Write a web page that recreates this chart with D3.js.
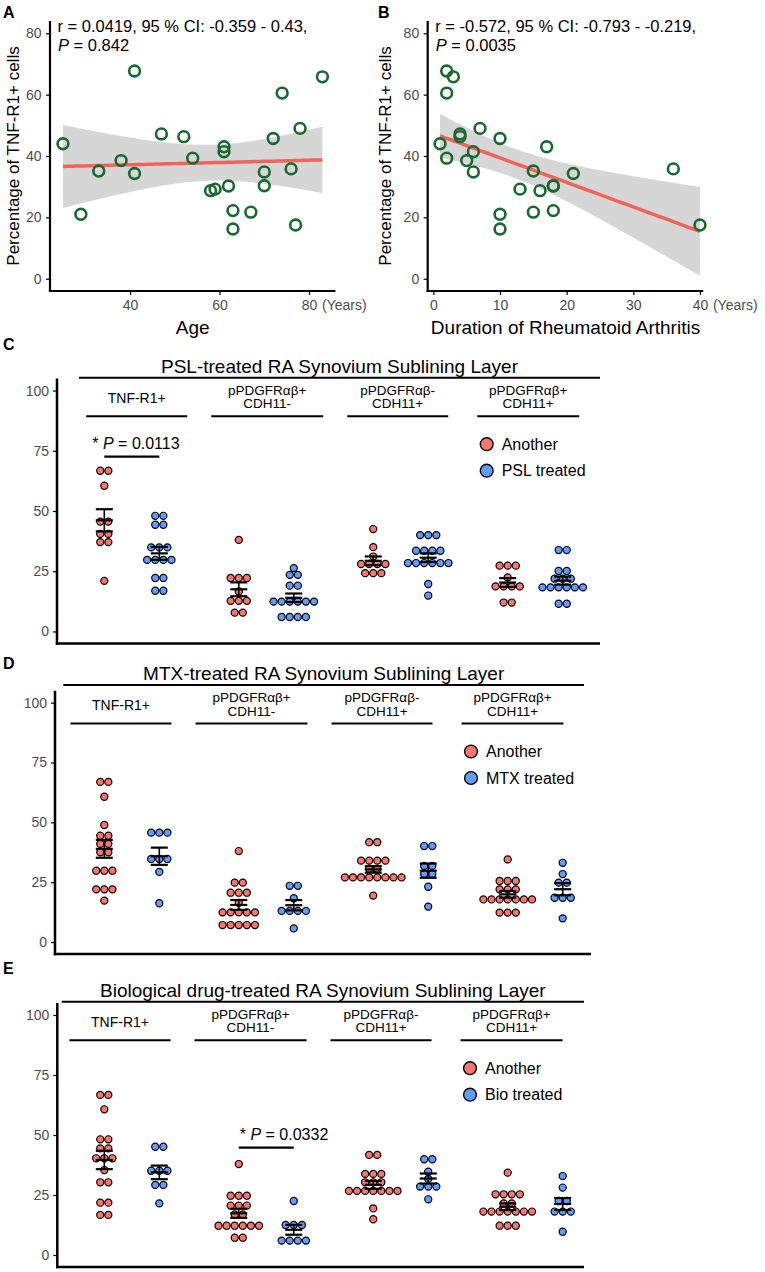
<!DOCTYPE html>
<html>
<head>
<meta charset="utf-8">
<script src="https://cdn.jsdelivr.net/npm/d3@7"></script>
<style>
  body { margin: 0; background: #fff; }
  svg { display: block; font-family: "Liberation Sans", Arial, Helvetica, sans-serif; }
</style>
</head>
<body>
<script>
// ---- A / B : scatter data (percentage of TNF-R1+ cells) ----
const ageYears = [25, 29, 33, 38, 41, 41, 47, 52, 54, 58, 59, 61, 61, 62, 63, 63, 67, 70, 70, 72, 74, 76, 77, 78, 83];
const ageTnf = [44, 21, 35.1, 38.5, 67.7, 34.3, 47.2, 46.3, 39.3, 28.7, 29.2, 43, 41.4, 30.2, 22.2, 16.2, 21.7, 34.8, 30.3, 45.7, 60.5, 35.8, 17.5, 49, 65.8];
const durationYears = [1, 2, 3, 2, 2, 4, 4, 5, 6, 6, 7, 10, 10, 10, 13, 15, 15, 16, 17, 18, 18, 18, 21, 36, 40];
const durationTnf = [44, 67.7, 65.8, 60.5, 39.3, 47.2, 46.3, 38.5, 41.4, 34.8, 49, 45.7, 21, 16.2, 29.2, 35.1, 21.7, 28.7, 43, 30.2, 30.3, 22.2, 34.3, 35.8, 17.5];
const ageStat = ["r = 0.0419, 95 % CI: -0.359 - 0.43,", "0.842"];
const durationStat = ["r = -0.572, 95 % CI: -0.793 - -0.219,", "0.0035"];
const scatterYTicks = [0, 20, 40, 60, 80];
const ageTicks = [40, 60, 80];
const durationTicks = [0, 10, 20, 30, 40];

// ---- C / D / E : dot plots ----
const markers = ["TNF-R1+", "pPDGFRαβ+ CDH11-", "pPDGFRαβ- CDH11+", "pPDGFRαβ+ CDH11+"];
const markerLabels = [["TNF-R1+"], ["pPDGFRαβ+", "CDH11-"], ["pPDGFRαβ-", "CDH11+"], ["pPDGFRαβ+", "CDH11+"]];
const dotYTicks = [0, 25, 50, 75, 100];

const pslAnother = [
  [66.7, 66.7, 60.5, 45.6, 45.6, 40.5, 40.5, 37.1, 37.1, 21.0],
  [38.0, 22.2, 22.2, 22.2, 16.6, 12.7, 12.7, 12.7, 7.8, 7.8],
  [42.5, 35.0, 31.1, 28.0, 28.0, 28.0, 28.0, 24.2, 24.2, 24.2],
  [27.3, 27.3, 27.3, 22.4, 18.7, 18.7, 18.7, 18.7, 12.0, 12.0],
];
const pslTreated = [
  [48.0, 48.0, 44.3, 44.3, 34.9, 34.9, 34.9, 29.7, 29.7, 29.7, 29.7, 22.2, 22.2, 16.9, 16.9],
  [26.3, 23.5, 23.5, 19.0, 19.0, 12.4, 12.4, 12.4, 12.4, 12.4, 12.4, 6.0, 6.0, 6.0, 6.0],
  [40.0, 40.0, 40.0, 33.5, 33.5, 33.5, 33.5, 28.4, 28.4, 28.4, 28.4, 28.4, 28.4, 19.7, 14.9],
  [33.8, 33.8, 25.1, 25.1, 21.9, 21.9, 21.9, 18.3, 18.3, 18.3, 18.3, 18.3, 18.3, 11.5, 11.5],
];
const mtxAnother = [
  [66.9, 66.9, 60.7, 48.9, 44.4, 44.4, 41.0, 41.0, 37.5, 37.5, 29.8, 29.8, 29.8, 22.0, 22.0, 22.0, 17.3],
  [38.0, 24.8, 24.8, 20.6, 20.6, 20.6, 16.4, 12.4, 12.4, 12.4, 12.4, 12.4, 7.1, 7.1, 7.1, 7.1, 7.1],
  [41.7, 41.7, 34.0, 34.0, 34.0, 34.0, 30.6, 30.6, 27.0, 27.0, 27.0, 27.0, 27.0, 27.0, 27.0, 27.0, 19.4],
  [34.5, 25.5, 25.5, 25.5, 22.0, 22.0, 22.0, 17.8, 17.8, 17.8, 17.8, 17.8, 17.8, 17.8, 12.3, 12.3, 12.3],
];
const mtxTreated = [
  [45.7, 45.7, 45.7, 34.7, 34.7, 34.7, 29.3, 16.2],
  [23.5, 23.5, 18.3, 13.0, 13.0, 13.0, 13.0, 5.7],
  [40.1, 40.1, 31.8, 31.8, 28.4, 28.4, 23.1, 14.8],
  [33.1, 28.4, 24.8, 24.8, 18.5, 18.5, 18.5, 9.9],
];
const bioAnother = [
  [66.7, 66.7, 60.7, 48.2, 48.2, 44.4, 44.4, 40.3, 40.3, 40.3, 35.4, 30.3, 30.3, 21.8, 21.8, 16.7, 16.7],
  [37.9, 24.7, 24.7, 24.7, 20.6, 20.6, 20.6, 16.9, 16.9, 12.2, 12.2, 12.2, 12.2, 12.2, 12.2, 7.2, 7.2],
  [41.7, 41.7, 33.8, 33.8, 33.8, 30.3, 30.3, 30.3, 26.7, 26.7, 26.7, 26.7, 26.7, 26.7, 26.7, 19.4, 14.9],
  [34.3, 25.3, 25.3, 25.3, 25.3, 21.5, 21.5, 18.1, 18.1, 18.1, 18.1, 18.1, 18.1, 18.1, 12.2, 12.2, 12.2],
];
const bioTreated = [
  [45.1, 45.1, 35.1, 35.1, 35.1, 29.2, 29.2, 21.5],
  [22.5, 12.5, 12.5, 12.5, 6.0, 6.0, 6.0, 6.0],
  [39.9, 39.9, 34.7, 31.7, 28.5, 28.5, 28.5, 23.2],
  [32.9, 28.1, 22.5, 22.5, 18.1, 18.1, 18.1, 9.7],
];

const red = "#F8766D";
const blue = "#619CFF";
const green = "#17692f";
const tickGrey = "#4d4d4d";

const svg = d3.select("body").append("svg").attr("width", 765).attr("height", 1272);

const letter = (txt, x, y) =>
  svg.append("text").text(txt).attr("x", x).attr("y", y)
    .style("font-size", "16px").style("font-weight", "bold");

// ---------- scatter panels ----------
const drawScatter = (cfg) => {
  const g = svg.append("g");
  const x = d3.scaleLinear().domain(cfg.xDomain).range(cfg.xRange);
  const y = d3.scaleLinear().domain([-4, 84]).range([291, 21]);

  // linear fit + 95% confidence band (as geom_smooth(method = "lm"))
  const xs = cfg.xs, ys = cfg.ys, n = xs.length;
  const mx = d3.mean(xs), my = d3.mean(ys);
  const sxx = d3.sum(xs, (v) => (v - mx) ** 2);
  const sxy = d3.sum(xs, (v, i) => (v - mx) * (ys[i] - my));
  const b = sxy / sxx, a = my - b * mx;
  const s = Math.sqrt(d3.sum(xs, (v, i) => (ys[i] - a - b * v) ** 2) / (n - 2));
  const tq = 2.0687; // t(0.975, df = 23)
  const [x0, x1] = d3.extent(xs);
  const fit = d3.ticks(x0, x1, 60).concat([x0, x1]).sort((p, q) => p - q).map((v) => {
    const se = s * Math.sqrt(1 / n + (v - mx) ** 2 / sxx);
    return { x: v, y: a + b * v, lo: a + b * v - tq * se, hi: a + b * v + tq * se };
  });

  g.append("path").datum(fit)
    .attr("d", d3.area().x((d) => x(d.x)).y0((d) => y(d.lo)).y1((d) => y(d.hi)))
    .attr("fill", "#999").attr("fill-opacity", 0.4);
  g.append("path").datum(fit)
    .attr("d", d3.line().x((d) => x(d.x)).y((d) => y(d.y)))
    .attr("fill", "none").attr("stroke", "#f2645a").attr("stroke-width", 3.5);

  g.selectAll("circle.pt").data(xs).enter().append("circle")
    .attr("class", "pt")
    .attr("cx", (d) => x(d))
    .attr("cy", (d, i) => y(ys[i]))
    .attr("r", 5.4)
    .attr("fill", "none").attr("stroke", green).attr("stroke-width", 2.6);

  // axes
  const yAxis = g.append("g").attr("transform", `translate(${cfg.xRange[0]},0)`)
    .call(d3.axisLeft(y).tickValues(scatterYTicks).tickSize(4).tickPadding(4.5));
  const xAxis = g.append("g").attr("transform", "translate(0,291)")
    .call(d3.axisBottom(x).tickValues(cfg.xTicks).tickSize(4).tickPadding(5));
  [yAxis, xAxis].forEach((ax) => {
    ax.select(".domain").remove();
    ax.selectAll(".tick line").attr("stroke", "#000").attr("stroke-width", 1.2);
    ax.selectAll(".tick text").attr("fill", tickGrey).style("font-size", "14px").style("font-family", null);
  });
  g.append("line").attr("x1", cfg.xRange[0]).attr("x2", cfg.xRange[0]).attr("y1", 21).attr("y2", 292)
    .attr("stroke", "#000").attr("stroke-width", 2.2);
  g.append("line").attr("x1", cfg.xRange[0] - 1.1).attr("x2", cfg.xRange[1]).attr("y1", 291).attr("y2", 291)
    .attr("stroke", "#000").attr("stroke-width", 2.2);

  const lastTick = cfg.xTicks[cfg.xTicks.length - 1];
  g.append("text").text("(Years)").attr("x", x(lastTick) + 13).attr("y", 310)
    .attr("fill", tickGrey).style("font-size", "14px");

  // titles
  g.append("text").text(cfg.xTitle)
    .attr("x", (cfg.xRange[0] + cfg.xRange[1]) / 2).attr("y", 334)
    .attr("text-anchor", "middle").style("font-size", "19px");
  g.append("text").text("Percentage of TNF-R1+ cells")
    .attr("transform", `translate(${cfg.yTitleX},156) rotate(-90)`)
    .attr("text-anchor", "middle").style("font-size", "17px");

  // statistics
  g.append("text").text(cfg.stat[0]).attr("x", cfg.xRange[0] + 7.5).attr("y", 31.5).style("font-size", "16.5px");
  const p = g.append("text").attr("x", cfg.xRange[0] + 8).attr("y", 51).style("font-size", "16.5px");
  p.append("tspan").text("P").style("font-style", "italic");
  p.append("tspan").text(" = " + cfg.stat[1]);

  letter(cfg.letter, cfg.letterX, 18);
};

drawScatter({ letter: "A", letterX: 3, xs: ageYears, ys: ageTnf, xDomain: [22.1, 85.9], xRange: [50, 335.4],
  xTicks: ageTicks, stat: ageStat, xTitle: "Age", yTitleX: 19 });
drawScatter({ letter: "B", letterX: 378, xs: durationYears, ys: durationTnf, xDomain: [-0.85, 40.5], xRange: [427.7, 703.3],
  xTicks: durationTicks, stat: durationStat, xTitle: "Duration of Rheumatoid Arthritis", yTitleX: 391 });

// ---------- dot plot panels ----------
const dotStep = 8.1;
const stackRows = (values) =>
  d3.groups(values, (v) => v).flatMap(([v, vs]) => vs.map((_, k) => ({ value: v, k, n: vs.length })));

const pairX = d3.scalePoint().domain(markers).range([131.8, 535.2]);
const dodge = d3.scalePoint().domain(["another", "treated"]).range([-27.5, 27.5]);

const drawDotPanel = (cfg) => {
  const g = svg.append("g");
  const y = d3.scaleLinear().domain([-5, 105]).range(cfg.yRange);
  const headerX = d3.scalePoint().domain(markers).range([cfg.headerX0, cfg.headerX0 + 391.5]);
  const underlineW = [101, 112, 101, 102];
  const L = cfg.lineY;

  // title and header lines
  g.append("text").text(cfg.title)
    .attr("x", (cfg.lineX[0] + cfg.lineX[1]) / 2).attr("y", L - 5)
    .attr("text-anchor", "middle").style("font-size", "19px");
  g.append("line").attr("x1", cfg.lineX[0]).attr("x2", cfg.lineX[1]).attr("y1", L).attr("y2", L)
    .attr("stroke", "#000").attr("stroke-width", 2);

  markers.forEach((m, i) => {
    const cx = headerX(m);
    const lines = markerLabels[i];
    lines.forEach((t, j) => {
      g.append("text").text(t).attr("x", cx)
        .attr("y", lines.length === 1 ? L + 25 : L + 17 + j * 13.5)
        .attr("text-anchor", "middle").style("font-size", lines.length === 1 ? "14px" : "13.5px");
    });
    g.append("line").attr("x1", cx - underlineW[i] / 2).attr("x2", cx + underlineW[i] / 2)
      .attr("y1", L + 38.5).attr("y2", L + 38.5).attr("stroke", "#000").attr("stroke-width", 2);
  });

  // legend
  const lx = headerX(markers[3]) - 41.5;
  [["Another", red], [cfg.treatedLabel, blue]].forEach(([t, c], i) => {
    const ly = L + 66.5 + i * 26.5;
    g.append("circle").attr("cx", lx).attr("cy", ly).attr("r", 6.4)
      .attr("fill", c).attr("stroke", "#000").attr("stroke-width", 1.4);
    g.append("text").text(t).attr("x", lx + 15).attr("y", ly + 5.5).style("font-size", "16px");
  });

  // axes
  const yAxis = g.append("g").attr("transform", `translate(${cfg.axisX},0)`)
    .call(d3.axisLeft(y).tickValues(dotYTicks).tickSize(4).tickPadding(4));
  yAxis.select(".domain").remove();
  yAxis.selectAll(".tick line").attr("stroke", "#000").attr("stroke-width", 1.2);
  yAxis.selectAll(".tick text").attr("fill", tickGrey).style("font-size", "14px").style("font-family", null);
  g.append("line").attr("x1", cfg.axisX).attr("x2", cfg.axisX).attr("y1", cfg.yRange[1]).attr("y2", cfg.yRange[0] + 1.2)
    .attr("stroke", "#000").attr("stroke-width", 2.5);
  g.append("line").attr("x1", cfg.axisX - 1.2).attr("x2", cfg.axisEnd).attr("y1", cfg.yRange[0]).attr("y2", cfg.yRange[0])
    .attr("stroke", "#000").attr("stroke-width", 2.5);

  // dots + mean ± SEM
  const groups = [];
  markers.forEach((m, i) => {
    groups.push({ m, key: "another", vals: cfg.another[i], fill: red });
    groups.push({ m, key: "treated", vals: cfg.treated[i], fill: blue });
  });
  groups.forEach((grp) => {
    const cx = pairX(grp.m) + dodge(grp.key);
    g.append("g").selectAll("circle").data(stackRows(grp.vals)).enter().append("circle")
      .attr("cx", (d) => cx + (d.k - (d.n - 1) / 2) * dotStep)
      .attr("cy", (d) => y(d.value))
      .attr("r", 3.55)
      .attr("fill", grp.fill).attr("stroke", "#000").attr("stroke-width", 1.2);
  });
  groups.forEach((grp) => {
    const cx = pairX(grp.m) + dodge(grp.key);
    const mean = d3.mean(grp.vals);
    const sem = d3.deviation(grp.vals) / Math.sqrt(grp.vals.length);
    const eb = g.append("g").attr("stroke", "#000");
    eb.append("line").attr("x1", cx).attr("x2", cx).attr("y1", y(mean - sem)).attr("y2", y(mean + sem)).attr("stroke-width", 1.6);
    [mean - sem, mean, mean + sem].forEach((v) => {
      eb.append("line").attr("x1", cx - 8.5).attr("x2", cx + 8.5).attr("y1", y(v)).attr("y2", y(v)).attr("stroke-width", 2.2);
    });
  });

  // significance
  if (cfg.sig) {
    const m = markers[cfg.sig.group];
    const xa = pairX(m) + dodge("another"), xb = pairX(m) + dodge("treated");
    const by = y(cfg.sig.value);
    g.append("line").attr("x1", xa).attr("x2", xb).attr("y1", by).attr("y2", by)
      .attr("stroke", "#000").attr("stroke-width", 2.2);
    const t = g.append("text").attr("x", xa + cfg.sig.dx).attr("y", by - 7.5).style("font-size", "16px");
    t.append("tspan").text("* ");
    t.append("tspan").text("P").style("font-style", "italic");
    t.append("tspan").text(" = " + cfg.sig.label);
  }

  letter(cfg.letter, 3, cfg.letterY);
};

drawDotPanel({ letter: "C", letterY: 350, title: "PSL-treated RA Synovium Sublining Layer", treatedLabel: "PSL treated",
  another: pslAnother, treated: pslTreated, lineY: 377.7, lineX: [79, 600], axisX: 57, axisEnd: 600,
  yRange: [643.5, 378.5], headerX0: 136.7, sig: { group: 0, value: 72.6, label: "0.0113", dx: -12 } });
drawDotPanel({ letter: "D", letterY: 669, title: "MTX-treated RA Synovium Sublining Layer", treatedLabel: "MTX treated",
  another: mtxAnother, treated: mtxTreated, lineY: 685, lineX: [63.3, 584], axisX: 55, axisEnd: 591,
  yRange: [954, 690.7], headerX0: 121 });
drawDotPanel({ letter: "E", letterY: 974, title: "Biological drug-treated RA Synovium Sublining Layer", treatedLabel: "Bio treated",
  another: bioAnother, treated: bioTreated, lineY: 1001.7, lineX: [61.7, 584], axisX: 57.3, axisEnd: 584,
  yRange: [1267, 1003], headerX0: 120, sig: { group: 1, value: 44.7, label: "0.0332", dx: 1 } });
</script>
</body>
</html>
